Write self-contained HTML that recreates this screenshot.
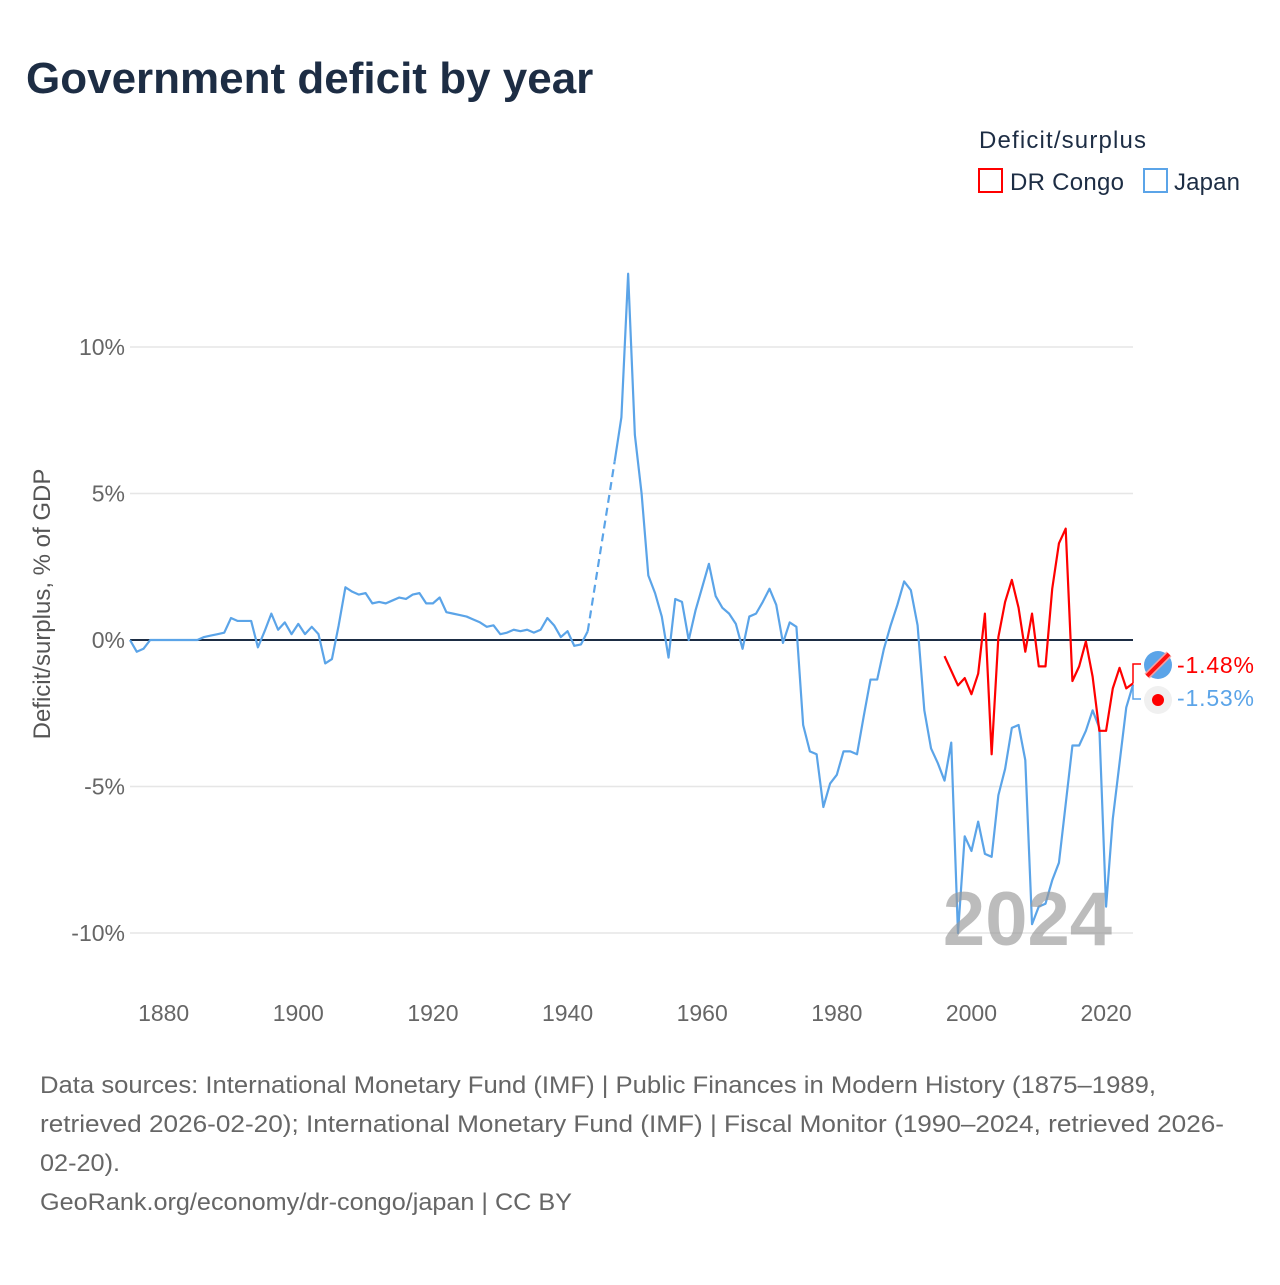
<!DOCTYPE html>
<html><head><meta charset="utf-8"><style>
body{margin:0;background:#fff;font-family:"Liberation Sans",sans-serif;}
svg text{font-family:"Liberation Sans",sans-serif;}
</style></head><body>
<svg id="chart" width="1280" height="1280" xmlns="http://www.w3.org/2000/svg">
<text x="26" y="93" font-size="44" font-weight="bold" fill="#1d2d44">Government deficit by year</text>
<text x="979" y="148" font-size="24" fill="#1d2d44" textLength="167">Deficit/surplus</text>
<g><rect x="979" y="169" width="23" height="23" fill="none" stroke="#ff0000" stroke-width="2"/><text x="1010" y="190" font-size="24" fill="#1d2d44" textLength="114">DR Congo</text></g>
<g><rect x="1144" y="169" width="23" height="23" fill="none" stroke="#5ba4e8" stroke-width="2"/><text x="1174" y="190" font-size="24" fill="#1d2d44" textLength="66">Japan</text></g>
<g id="grid"></g><g id="axes"></g><g id="series"></g>
<text x="0" y="0" transform="translate(50,604) rotate(-90)" text-anchor="middle" font-size="24" fill="#555">Deficit/surplus, % of GDP</text>
<text x="1112" y="945" text-anchor="end" font-size="76" font-weight="bold" fill="#999" opacity="0.65">2024</text>
<g font-size="24" fill="#666">
<text x="40" y="1093" textLength="1116" lengthAdjust="spacingAndGlyphs">Data sources: International Monetary Fund (IMF) | Public Finances in Modern History (1875–1989,</text>
<text x="40" y="1132" textLength="1184" lengthAdjust="spacingAndGlyphs">retrieved 2026-02-20); International Monetary Fund (IMF) | Fiscal Monitor (1990–2024, retrieved 2026-</text>
<text x="40" y="1171" textLength="80" lengthAdjust="spacingAndGlyphs">02-20).</text>
<text x="40" y="1210" textLength="532" lengthAdjust="spacingAndGlyphs">GeoRank.org/economy/dr-congo/japan | CC BY</text>
</g>
</svg>
<script>
const yTicks=[10,5,0,-5,-10];
const yTickLabels=["10%","5%","0%","-5%","-10%"];
const xTicks=[1880,1900,1920,1940,1960,1980,2000,2020];
const japanStart=1875;
const japanValues=[0,-0.4,-0.3,0,0,0,0,0,0,0,0,0.1,0.15,0.2,0.25,0.75,0.65,0.65,0.65,-0.25,0.3,0.9,0.35,0.6,0.2,0.55,0.2,0.45,0.2,-0.8,-0.65,0.5,1.8,1.65,1.55,1.6,1.25,1.3,1.25,1.35,1.45,1.4,1.55,1.6,1.25,1.25,1.45,0.95,0.9,0.85,0.8,0.7,0.6,0.45,0.5,0.2,0.25,0.35,0.3,0.35,0.25,0.35,0.75,0.5,0.1,0.3,-0.2,-0.15,0.3,null,null,null,6.1,7.6,12.5,7.0,5.0,2.2,1.6,0.8,-0.6,1.4,1.3,0.0,1.0,1.8,2.6,1.5,1.1,0.9,0.55,-0.3,0.8,0.9,1.3,1.75,1.2,-0.1,0.6,0.45,-2.9,-3.8,-3.9,-5.7,-4.9,-4.6,-3.8,-3.8,-3.9,-2.6,-1.35,-1.35,-0.3,0.5,1.2,2.0,1.7,0.5,-2.4,-3.7,-4.2,-4.8,-3.5,-10.0,-6.7,-7.2,-6.2,-7.3,-7.4,-5.3,-4.4,-3.0,-2.9,-4.1,-9.7,-9.1,-9.0,-8.2,-7.6,-5.6,-3.6,-3.6,-3.1,-2.4,-3.0,-9.1,-6.1,-4.2,-2.3,-1.53];
const congoStart=1996;
const congoValues=[-0.55,-1.05,-1.55,-1.3,-1.85,-1.15,0.9,-3.9,0.1,1.3,2.05,1.1,-0.4,0.9,-0.9,-0.9,1.75,3.3,3.8,-1.4,-0.9,-0.05,-1.25,-3.1,-3.1,-1.65,-0.95,-1.65,-1.48];
const NS='http://www.w3.org/2000/svg';
const X=y=>130+(y-1875)*(1003/149);
const Y=v=>640-v*29.3;
function mk(t,a,p){const e=document.createElementNS(NS,t);for(const k in a)e.setAttribute(k,a[k]);(p||document.getElementById('series')).appendChild(e);return e;}
const grid=document.getElementById('grid'),axes=document.getElementById('axes');
yTicks.forEach((v,i)=>{
 const l=mk('line',{x1:130,x2:1133,y1:Y(v),y2:Y(v),stroke:v===0?'#1d2d44':'#e6e6e6','stroke-width':v===0?2:1.5},v===0?axes:grid);
 
 
 const t=mk('text',{x:125,y:Y(v)+8,'text-anchor':'end','font-size':23,fill:'#666'},axes);
 t.textContent=yTickLabels[i];
 
 
});
xTicks.forEach(y=>{
 const t=mk('text',{x:X(y),y:1021,'text-anchor':'middle','font-size':23,fill:'#666'},axes);
 t.textContent=y;
 
 
});
function draw(start,vals,color,name){
 let seg=[],segs=[];
 vals.forEach((v,i)=>{if(v===null){if(seg.length)segs.push(seg);seg=[];}else seg.push([X(start+i),Y(v)]);});
 if(seg.length)segs.push(seg);
 segs.forEach(s=>{const p=mk('polyline',{points:s.map(q=>q.join(',')).join(' '),fill:'none',stroke:color,'stroke-width':2.2,'stroke-linejoin':'round'});
  
  });
 for(let k=0;k<segs.length-1;k++){const a=segs[k][segs[k].length-1],b=segs[k+1][0];
  const d=mk('line',{x1:a[0],y1:a[1],x2:b[0],y2:b[1],stroke:color,'stroke-width':2.2,'stroke-dasharray':'8,5'});
  
  }
}
draw(japanStart,japanValues,'#5ba4e8','japan');
draw(congoStart,congoValues,'#ff0000','dr-congo');
const lastC=congoValues[congoValues.length-1],lastJ=japanValues[japanValues.length-1];
const c1=mk('path',{d:`M1133 ${Y(lastC)} L1133 ${664} L1141 664`,fill:'none',stroke:'#ff0000','stroke-width':1.5});


const c2=mk('path',{d:`M1133 ${Y(lastJ)} L1133 699 L1141 699`,fill:'none',stroke:'#5ba4e8','stroke-width':1.5});


const f1=mk('g',{});


mk('circle',{cx:1158,cy:665,r:14,fill:'#5ba4e8'},f1);
mk('line',{x1:1147,y1:676,x2:1169,y2:654,stroke:'#f7a0a0','stroke-width':7},f1);
mk('line',{x1:1147,y1:676,x2:1169,y2:654,stroke:'#ff1010','stroke-width':4},f1);
const f2=mk('g',{});


mk('circle',{cx:1158,cy:700,r:14,fill:'#f0f0f0'},f2);
mk('circle',{cx:1158,cy:700,r:6,fill:'#ff0000'},f2);
const l1=mk('text',{x:1177,y:673,'font-size':23,fill:'#ff0000',textLength:77});
l1.textContent=lastC.toFixed(2)+'%';


const l2=mk('text',{x:1177,y:706,'font-size':23,fill:'#5ba4e8',textLength:77});
l2.textContent=lastJ.toFixed(2)+'%';


</script>
</body></html>
